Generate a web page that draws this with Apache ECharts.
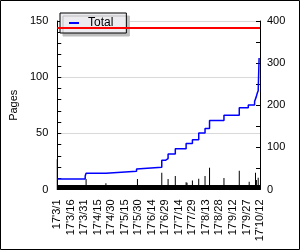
<!DOCTYPE html>
<html><head><meta charset="utf-8">
<script src="https://cdn.jsdelivr.net/npm/echarts@6/dist/echarts.min.js"></script>
<style>html,body{margin:0;padding:0;background:#fff}#c{width:300px;height:250px}</style>
</head><body><div id="c"></div>
<script>
const tickLabels = ["17'3/1","17'3/16","17'3/31","17'4/15","17'4/30","17'5/15","17'5/30","17'6/14","17'6/29","17'7/14","17'7/29","17'8/13","17'8/28","17'9/12","17'9/27","17'10/12"];
const totalDays   = [0,   31, 32,   54,   88,   89,   116, 120,  123,  131,  143,  150,  157,  164,  169,  185,  202,  212,  219,  221,  222,  223, 224];
const totalValues = [9.4, 12, 14.5, 16.2, 18.3, 19.8, 26,  27.5, 31.7, 36.2, 40.9, 44.2, 50.2, 54.3, 61.4, 66.2, 72.8, 75.2, 78.4, 82.9, 85.9, 88,  117];
const dailyDays   = [0,  32,  54,  89,  116, 123, 131, 143, 144, 150, 157, 164, 169,  185,  202,  213, 220, 221, 223];
const dailyValues = [27, 9.4, 5.5, 9.4, 15,  9.4, 12,  6.5, 6,   8,   9.5, 12,  19.3, 10.3, 16.8, 6.8, 15,  8.5, 10.5];
const limitValue = 144;
const baseBand = 4;

const FONT = 'Liberation Sans';
const chart = echarts.init(document.getElementById('c'), null, {renderer:'canvas'});
chart.setOption({
  animation:false,
  backgroundColor:'#fff',
  textStyle:{fontFamily:FONT},
  grid:{left:41, right:40, top:21, bottom:60.5, containLabel:false},
  legend:{
    data:['Total'], left:60, top:13, selectedMode:false,
    backgroundColor:'#ecebf0', borderColor:'#000', borderWidth:1,
    padding:[4,13,4,9], itemWidth:10, itemHeight:2, icon:'rect',
    textStyle:{fontFamily:FONT, fontSize:12, color:'#000', padding:[0,0,0,4]},
    shadowColor:'#bdbdbd', shadowBlur:0, shadowOffsetX:3, shadowOffsetY:3
  },
  xAxis:{
    type:'value', min:0, max:225, interval:15,
    axisLine:{show:true, lineStyle:{color:'#000'}},
    axisTick:{show:false}, splitLine:{show:false},
    axisLabel:{rotate:90, margin:10, fontFamily:FONT, fontSize:11, color:'#000',
      formatter:function(v){return tickLabels[Math.round(v/15)]||'';}}
  },
  yAxis:[{
    type:'value', min:0, max:150, interval:50,
    name:'Pages', nameLocation:'middle', nameGap:28,
    nameTextStyle:{fontFamily:FONT, fontSize:11, color:'#000'},
    axisLine:{show:true, lineStyle:{color:'#000'}},
    axisTick:{show:true, inside:true, length:4, lineStyle:{color:'#000'}},
    minorTick:{show:true, splitNumber:5, length:4, lineStyle:{color:'#000'}},
    splitLine:{show:true, lineStyle:{color:'#d9d9d9'}},
    axisLabel:{margin:9, fontFamily:FONT, fontSize:11, color:'#000'}
  },{
    type:'value', position:'right', min:0, max:400, interval:100,
    axisLine:{show:true, lineStyle:{color:'#000'}},
    axisTick:{show:true, inside:true, length:4, lineStyle:{color:'#000'}},
    minorTick:{show:true, splitNumber:2, length:4, lineStyle:{color:'#000'}},
    splitLine:{show:false},
    axisLabel:{margin:7, fontFamily:FONT, fontSize:11, color:'#000'}
  }],
  series:[{
    name:'Daily', type:'bar', xAxisIndex:0, yAxisIndex:0,
    data: dailyDays.map(function(d,i){return [d, dailyValues[i]];}),
    barWidth:1, itemStyle:{color:'#000'},
    markArea:{silent:true, itemStyle:{color:'#000'}, label:{show:false},
      data:[[{yAxis:0},{yAxis:baseBand}]]}
  },{
    name:'Total', type:'line', step:'end', xAxisIndex:0, yAxisIndex:0,
    data: totalDays.map(function(d,i){return [d, totalValues[i]];}),
    symbol:'none', lineStyle:{color:'#0000ff', width:1.5}, itemStyle:{color:'#0000ff'},
    markLine:{silent:true, symbol:'none', label:{show:false},
      lineStyle:{color:'#ff0000', width:2, type:'solid'},
      data:[{yAxis:limitValue}]}
  }],
  graphic:[{type:'rect', silent:true, z:100,
    shape:{x:0.5, y:0.5, width:299, height:249},
    style:{fill:null, stroke:'#000', lineWidth:1}}]
});
</script></body></html>
